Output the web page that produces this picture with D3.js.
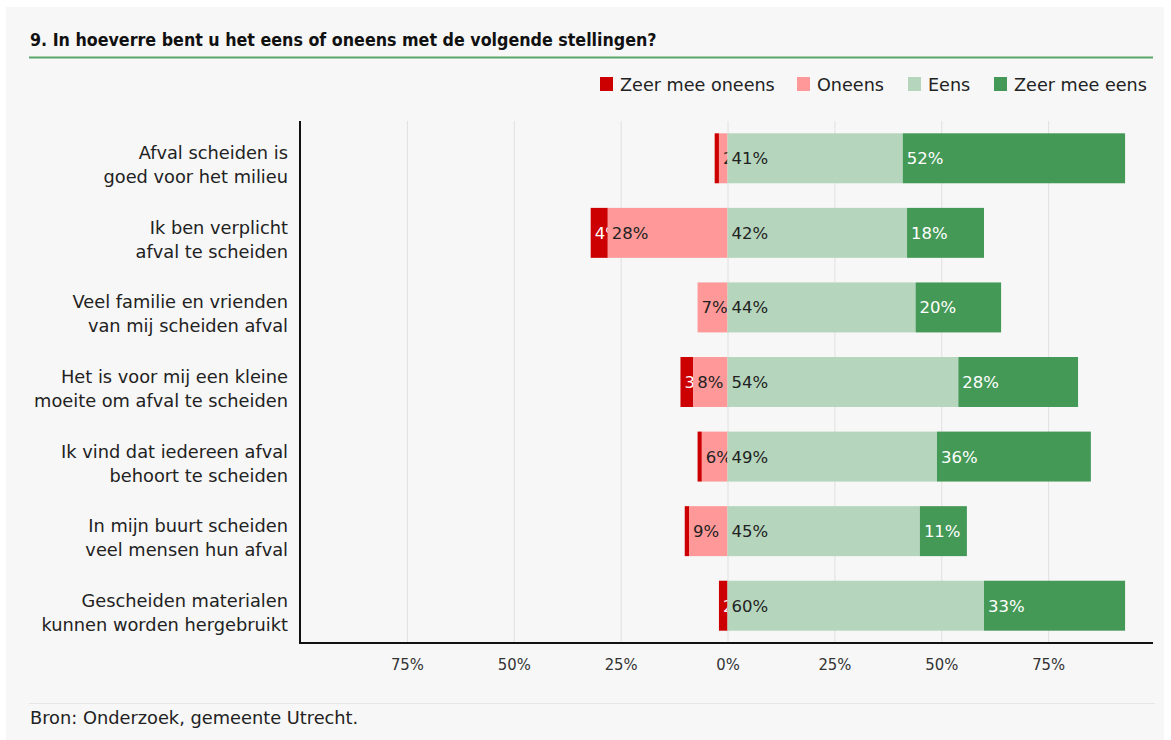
<!DOCTYPE html>
<html><head><meta charset="utf-8">
<script src="https://cdn.jsdelivr.net/npm/d3@7"></script>
<style>
html,body{margin:0;padding:0;background:#ffffff;}
svg{display:block;}
</style></head>
<body>
<svg id="chart" width="1171" height="740"></svg>
<script>
const categories = [
  ["Afval scheiden is","goed voor het milieu"],
  ["Ik ben verplicht","afval te scheiden"],
  ["Veel familie en vrienden","van mij scheiden afval"],
  ["Het is voor mij een kleine","moeite om afval te scheiden"],
  ["Ik vind dat iedereen afval","behoort te scheiden"],
  ["In mijn buurt scheiden","veel mensen hun afval"],
  ["Gescheiden materialen","kunnen worden hergebruikt"]
];
const seriesNames = ["Zeer mee oneens","Oneens","Eens","Zeer mee eens"];
const zeerOneens = [1, 4, 0, 3, 1, 1, 2];
const oneens     = [2, 28, 7, 8, 6, 9, 0];
const eens       = [41, 42, 44, 54, 49, 45, 60];
const zeerEens   = [52, 18, 20, 28, 36, 11, 33];
const tickValues = [-75, -50, -25, 0, 25, 50, 75];
const tickLabels = ["75%","50%","25%","0%","25%","50%","75%"];
const colors = ["#cc0000","#ff9999","#b5d6bd","#459957"];
const labelColors = ["#ffffff","#222222","#222222","#ffffff"];

const svg = d3.select("#chart");
const bodyFont = "DejaVu Sans";

// panel background
svg.append("rect").attr("x",6).attr("y",7).attr("width",1158).attr("height",733).attr("fill","#f7f7f7");

// title
svg.append("text").attr("x",30).attr("y",46)
  .attr("font-family","DejaVu Sans Condensed").attr("font-weight","bold").attr("font-size",17.7)
  .attr("fill","#111").text("9. In hoeverre bent u het eens of oneens met de volgende stellingen?");
svg.append("line").attr("x1",29).attr("x2",1153).attr("y1",57.5).attr("y2",57.5)
  .attr("stroke","#5aa66a").attr("stroke-width",2);

// legend
const legendX = [600, 797, 908, 994];
seriesNames.forEach((n,i)=>{
  const g = svg.append("g").attr("transform",`translate(${legendX[i]},77)`);
  g.append("rect").attr("width",13).attr("height",14).attr("fill",colors[i]);
  g.append("text").attr("x",20).attr("y",13.5).attr("font-family",bodyFont).attr("font-size",17.6)
    .attr("fill","#222").text(n);
});

// scales
const x = d3.scaleLinear().domain([-100,100]).range([300,1155]);
const y = d3.scaleBand().domain(d3.range(categories.length)).range([121,643]).paddingInner(0.33).paddingOuter(0.165);

// gridlines
svg.append("g").selectAll("line").data(tickValues).join("line")
  .attr("x1",d=>x(d)+0.5).attr("x2",d=>x(d)+0.5).attr("y1",121).attr("y2",643)
  .attr("stroke","#e0e0e0").attr("stroke-width",1);

// stacked segments
const defs = svg.append("defs");
const series = [zeerOneens, oneens, eens, zeerEens];
categories.forEach((c,i)=>{
  const segs = [];
  let left = -(zeerOneens[i]+oneens[i]);
  series.forEach((arr,s)=>{
    segs.push({s, v:arr[i], x0:left, x1:left+arr[i]});
    left += arr[i];
  });
  const g = svg.append("g");
  segs.forEach(seg=>{
    if(seg.v<=0) return;
    const x0 = x(seg.x0), x1 = x(seg.x1);
    g.append("rect").attr("x",x0).attr("y",y(i)).attr("width",x1-x0).attr("height",y.bandwidth())
      .attr("fill",colors[seg.s]);
    const id = `clip-${i}-${seg.s}`;
    defs.append("clipPath").attr("id",id).append("rect")
      .attr("x",x0).attr("y",y(i)).attr("width",x1-x0).attr("height",y.bandwidth());
    g.append("text").attr("x",x0+4).attr("y",y(i)+y.bandwidth()/2+6)
      .attr("clip-path",`url(#${id})`)
      .attr("font-family",bodyFont).attr("font-size",16.5)
      .attr("fill",labelColors[seg.s]).text(seg.v+"%");
  });
});

// category labels
categories.forEach((c,i)=>{
  const t = svg.append("text").attr("text-anchor","end").attr("font-family",bodyFont)
    .attr("font-size",17.8).attr("fill","#222");
  t.append("tspan").attr("x",288).attr("y",y(i)+y.bandwidth()/2+1).text(c[0]);
  t.append("tspan").attr("x",288).attr("y",y(i)+y.bandwidth()/2+25).text(c[1]);
});

// axes
const xAxis = d3.axisBottom(x).tickValues(tickValues).tickFormat((d,i)=>tickLabels[i]).tickSize(0).tickPadding(15);
const ax = svg.append("g").attr("transform","translate(0,643)").call(xAxis);
ax.select(".domain").remove();
ax.selectAll("text").attr("font-family","DejaVu Sans Condensed").attr("font-size",16.5).attr("fill","#333");
svg.append("line").attr("x1",300).attr("x2",1153).attr("y1",643).attr("y2",643).attr("stroke","#111").attr("stroke-width",2);
svg.append("line").attr("x1",300).attr("x2",300).attr("y1",121).attr("y2",644).attr("stroke","#111").attr("stroke-width",2);

// footer
svg.append("line").attr("x1",29).attr("x2",1155).attr("y1",703.5).attr("y2",703.5).attr("stroke","#e6e6e6").attr("stroke-width",1);
svg.append("text").attr("x",30).attr("y",724).attr("font-family",bodyFont).attr("font-size",17.8)
  .attr("fill","#222").text("Bron: Onderzoek, gemeente Utrecht.");
</script>
</body></html>
